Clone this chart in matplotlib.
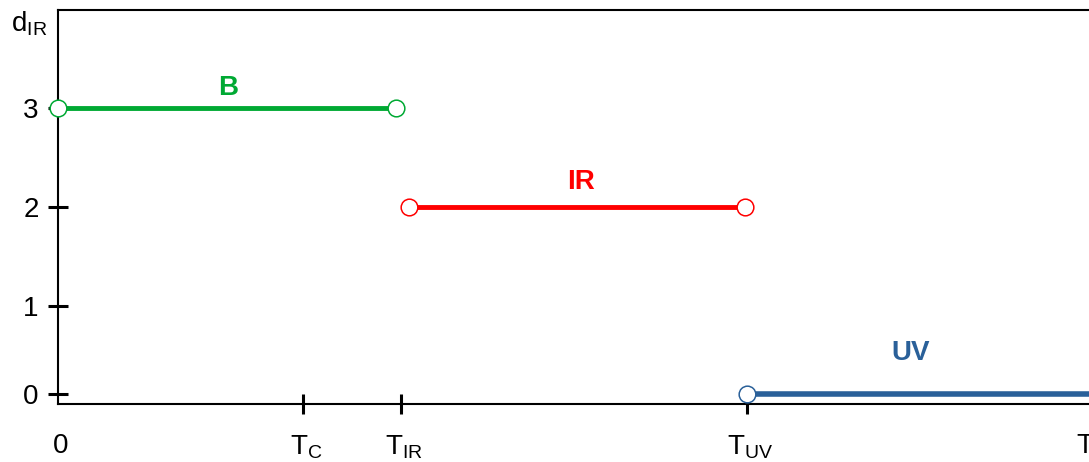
import matplotlib
matplotlib.use("Agg")
import matplotlib.pyplot as plt
import matplotlib.transforms as mtransforms
import numpy as np

plt.rcParams['font.family'] = ['Liberation Sans', 'DejaVu Sans']
plt.rcParams['mathtext.default'] = 'regular'

# tick positions along the T axis (arbitrary units)
x_ticks = [0, 2.45, 3.43, 6.89, 10.24]
x_labels = ["0", "T$_C$", "T$_{IR}$", "T$_{UV}$", "T"]
y_ticks = [0, 1, 2, 3]

# segments
b_x = [0, 3.38]
b_y = [3, 3]
ir_x = [3.51, 6.87]
ir_y = [2, 2]
uv_x = [6.89, 12.0]
uv_y = [0, 0]

GREEN = "#00a933"
RED = "#ff0000"
BLUE = "#2a6099"

# the step from 0 to 1 is drawn a bit shorter than the others
K = 0.889
def fwd(y):
    y = np.asarray(y, dtype=float)
    return np.where(y >= 1, y, 1 - (1 - y) * K)

def inv(y):
    y = np.asarray(y, dtype=float)
    return np.where(y >= 1, y, 1 - (1 - y) / K)

fig = plt.figure(figsize=(10.89, 4.62), dpi=100)
W, H = 1089, 462
left, right, top, bottom = 58, 1200, 10, 404
ax = fig.add_axes([left / W, 1 - bottom / H, (right - left) / W, (bottom - top) / H])

ax.set_yscale('function', functions=(fwd, inv))
ax.set_xlim(0, (right - left) / 100)
ax.set_ylim(-0.1135, 3.99)

# lines
ax.plot(b_x, b_y, color=GREEN, lw=3.5, solid_capstyle='butt', zorder=3)
ax.plot(ir_x, ir_y, color=RED, lw=3.5, solid_capstyle='butt', zorder=3)
ax.plot(uv_x, uv_y, color=BLUE, lw=4, solid_capstyle='butt', zorder=3)

# open end markers
ms = 12
ax.plot(b_x, b_y, 'o', ms=ms, mfc='white', mec=GREEN, mew=1.1, zorder=4, clip_on=False)
ax.plot(ir_x, ir_y, 'o', ms=ms, mfc='white', mec=RED, mew=1.1, zorder=4, clip_on=False)
ax.plot(uv_x[:1], uv_y[:1], 'o', ms=ms, mfc='white', mec=BLUE, mew=1.1, zorder=4, clip_on=False)

# segment labels
ax.text(1.70, 3.20, "B", color=GREEN, fontsize=20, fontweight='bold', ha='center', va='center')
ax.text(5.23, 2.25, "IR", color=RED, fontsize=20, fontweight='bold', ha='center', va='center')
ax.text(8.53, 0.466, "UV", color=BLUE, fontsize=20, fontweight='bold', ha='center', va='center')

# axes styling
for s in ['left', 'top', 'bottom']:
    ax.spines[s].set_linewidth(1.5)
    ax.spines[s].set_color('black')
ax.spines['right'].set_visible(False)

ax.set_yticks(y_ticks)
ax.set_yticklabels([str(v) for v in y_ticks], fontsize=20)
ax.set_xticks(x_ticks)
ax.set_xticklabels(x_labels, fontsize=20)
ax.tick_params(axis='both', direction='inout', length=14, width=2.2, color='black')
ax.tick_params(axis='y', pad=7)
ax.tick_params(axis='x', pad=14)
ax.minorticks_off()

# labels sit a little right of their ticks
shift = mtransforms.ScaledTranslation(3 / 100, 0, fig.dpi_scale_trans)
for lab in ax.get_xticklabels():
    lab.set_transform(lab.get_transform() + shift)

# no tick marks at 0 and at the last T (only labels)
xt = ax.xaxis.get_major_ticks()
xt[0].tick1line.set_visible(False)
xt[-1].tick1line.set_visible(False)

fig.text(11 / W, 1 - 31 / H, "d$_{IR}$", fontsize=20, ha='left', va='baseline')

fig.savefig("out.png", dpi=100)
